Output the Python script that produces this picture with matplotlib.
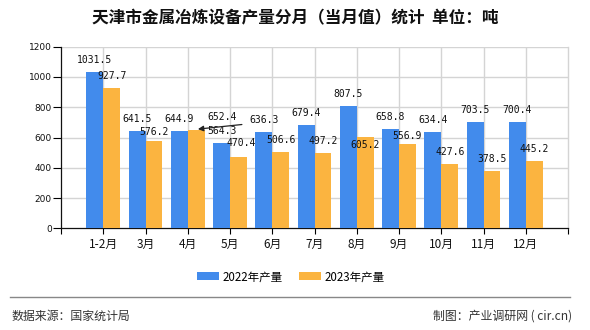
import matplotlib
matplotlib.use("Agg")
import matplotlib.pyplot as plt
import numpy as np

categories = ["1-2月", "3月", "4月", "5月", "6月", "7月", "8月", "9月", "10月", "11月", "12月"]
values_2022 = [1031.5, 641.5, 644.9, 564.3, 636.3, 679.4, 807.5, 658.8, 634.4, 703.5, 700.4]
values_2023 = [927.7, 576.2, 652.4, 470.4, 506.6, 497.2, 605.2, 556.9, 427.6, 378.5, 445.2]
series_names = ["2022年产量", "2023年产量"]
yticks = [0, 200, 400, 600, 800, 1000, 1200]
title = "天津市金属冶炼设备产量分月（当月值）统计  单位：吨"
source_left = "数据来源：国家统计局"
source_right = "制图：产业调研网 ( cir.cn)"

BLUE = "#428BEC"
ORANGE = "#FBB440"
GRID = "#D4D4D4"
CJK = ["Noto Sans CJK SC", "DejaVu Sans"]

plt.rcParams['font.family'] = CJK

W, H = 590, 330
fig = plt.figure(figsize=(W / 100, H / 100), dpi=100)
ax = fig.add_axes([61 / W, 1 - 228.3 / H, (568 - 61) / W, (228.3 - 46.7) / H])

x = np.arange(1, len(categories) + 1)
bw = 0.4
b1 = ax.bar(x - bw / 2, values_2022, bw, color=BLUE, zorder=3, label=series_names[0])
b2 = ax.bar(x + bw / 2, values_2023, bw, color=ORANGE, zorder=3, label=series_names[1])

ax.set_xlim(0, len(categories) + 1)
ax.set_ylim(0, 1200)
ax.set_yticks(yticks)
ax.set_yticklabels([str(v) for v in yticks], family="DejaVu Sans", fontsize=6.5, color="#111111")
ax.set_xticks(np.arange(0, len(categories) + 2))
ax.set_xticklabels([""] + categories + [""], fontsize=8.5, color="#111111")
ax.tick_params(axis="y", length=5.5, width=0.8, pad=1, direction="out")
ax.tick_params(axis="x", length=4, width=0.8, pad=3, direction="out")

for v in yticks[1:]:
    ax.axhline(v, color=GRID, lw=1, zorder=1)
for xi in x:
    ax.axvline(xi, color=GRID, lw=1, zorder=1)

ax.spines["top"].set_visible(False)
ax.spines["right"].set_color(GRID)
ax.spines["right"].set_linewidth(1)
ax.spines["left"].set_color("#111111")
ax.spines["bottom"].set_color("#111111")
ax.spines["left"].set_linewidth(0.9)
ax.spines["bottom"].set_linewidth(0.9)

px = 0.72  # points per pixel
label_kw = dict(textcoords="offset points", ha="center", va="center",
                family="DejaVu Sans Mono", fontsize=7, color="#111111", zorder=5)

for xi, v in zip(x - bw / 2, values_2022):
    ax.annotate(f"{v}", (xi, v), xytext=(0, 12 * px), **label_kw)

# per-label offsets (pixels) for the 2023 series where the original shifts labels
offsets_2023 = {1: (0, 9.4), 3: (3, 14), 6: (0, -8), 7: (0, 8)}
for i, (xi, v) in enumerate(zip(x + bw / 2, values_2023)):
    if i == 2:
        ax.annotate(f"{v}", (xi, v), xytext=(26 * px, 12.6 * px), **label_kw)
        ax.annotate("", (xi + 0.04, v + 3), xytext=(44 * px, 4.6 * px), textcoords="offset points",
                    arrowprops=dict(arrowstyle="-|>", color="#222222", lw=0.9,
                                    mutation_scale=8, shrinkA=0, shrinkB=0), zorder=6)
        continue
    dx, dy = offsets_2023.get(i, (0, 12))
    ax.annotate(f"{v}", (xi, v), xytext=(dx * px, dy * px), **label_kw)

fig.text(0.5, 1 - 18 / H, title, ha="center", va="center", fontsize=12, fontweight="bold",
         color="#111111")

leg = fig.legend(handles=[b1, b2], labels=series_names, loc="center",
                 bbox_to_anchor=(291 / W, 1 - 276.7 / H), ncol=2, frameon=False,
                 fontsize=8.3, handlelength=1.9, handleheight=0.7, handletextpad=0.35,
                 columnspacing=1.4, borderpad=0, borderaxespad=0)

fig.add_artist(plt.Line2D([10 / W, 570 / W], [1 - 297.3 / H, 1 - 297.3 / H],
                          color="#888888", lw=1.0))
fig.text(12 / W, 1 - 316 / H, source_left, ha="left", va="center", fontsize=8.6, color="#333333")
fig.text(572 / W, 1 - 316 / H, source_right, ha="right", va="center", fontsize=8.6, color="#333333")

fig.savefig("out.png", dpi=100)
